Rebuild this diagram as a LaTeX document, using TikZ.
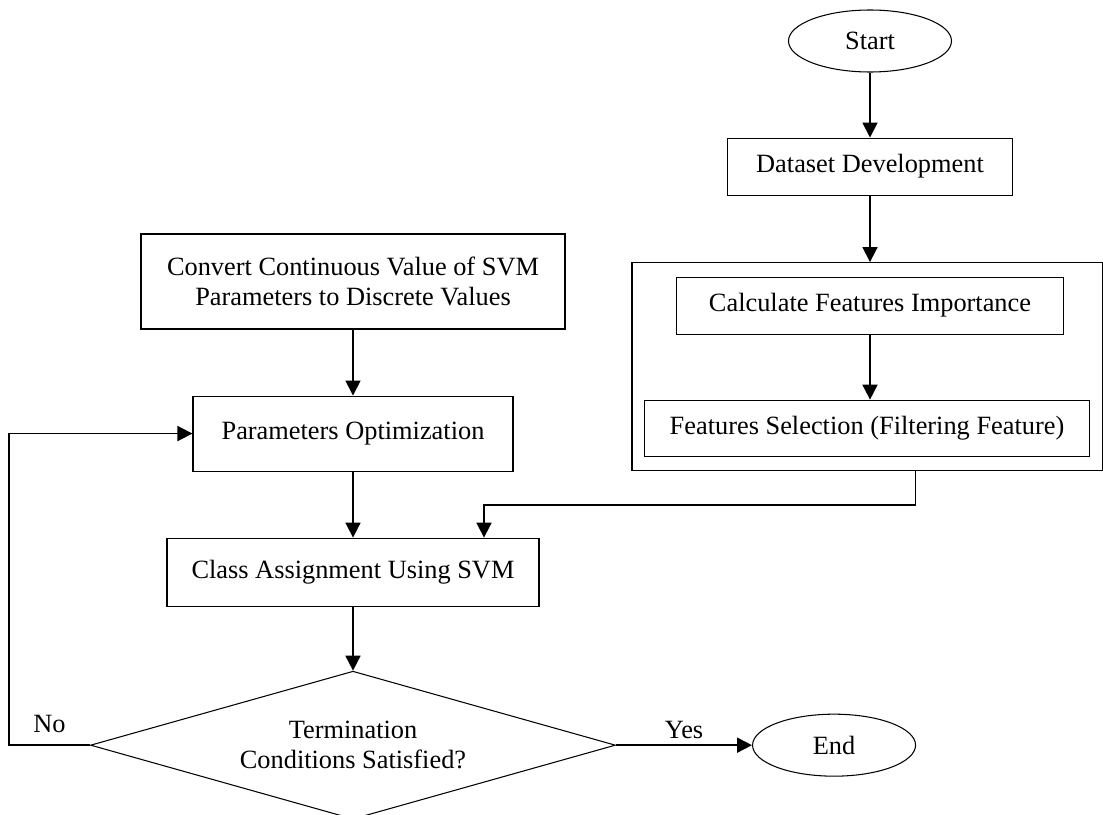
\documentclass[tikz,border=0pt]{standalone}
\usepackage{fontspec}
\setmainfont{Liberation Serif}
\usetikzlibrary{positioning, shapes.geometric, arrows.meta, fit}

\begin{document}
\begin{tikzpicture}[
    font=\fontsize{15}{17}\selectfont,
    box/.style={rectangle, draw, line width=0.6pt, align=center},
    term/.style={ellipse, draw, line width=0.6pt, minimum width=3.26cm, minimum height=1.24cm},
    decision/.style={diamond, draw, line width=0.6pt, aspect=3.55, minimum width=10.5cm, minimum height=2.96cm, align=center, inner sep=0pt},
    arrow_main/.style={-{Triangle[length=3mm, width=3mm]}, line width=1pt},
    label_style/.style={font=\fontsize{15}{17}\selectfont}
]
\useasboundingbox (0,0) rectangle (22.06,-16.28);

% right branch
\node[term] (start) at (17.4,-0.82) {Start};
\node[box, minimum width=5.7cm, minimum height=1.14cm, below=1.3cm of start] (dataset) {Dataset Development};
\node[box, minimum width=7.74cm, minimum height=1.14cm, below=1.62cm of dataset] (calc) {Calculate Features Importance};
\node[box, minimum width=8.9cm, minimum height=1.12cm, below=1.3cm of calc, xshift=-0.06cm] (fsel) {Features Selection (Filtering Feature)};
\node[box, inner xsep=0.24cm, inner ysep=0.28cm, fit=(calc)(fsel)] (group) {};

% left branch
\node[box, minimum width=8.48cm, minimum height=1.9cm] (convert) at (7.06,-5.63) {Convert Continuous Value of SVM\\Parameters to Discrete Values};
\node[box, minimum width=6.4cm, minimum height=1.5cm, below=1.32cm of convert] (params) {Parameters Optimization};
\node[box, minimum width=7.44cm, minimum height=1.36cm, below=1.32cm of params] (cls) {Class Assignment Using SVM};
\node[decision, below=1.28cm of cls] (dec) {Termination\\Conditions Satisfied?};
\node[term, right=2.72cm of dec] (finish) {End};

\draw[arrow_main] (start) -- (dataset);
\draw[arrow_main] (dataset.south) -- (dataset.south |- group.north);
\draw[arrow_main] (calc.south) -- (calc.south |- fsel.north);
\draw[arrow_main] (convert) -- (params);
\draw[arrow_main] (params) -- (cls);
\draw[arrow_main] (cls) -- (dec);

\coordinate (tap) at ([xshift=0.97cm]group.south);
\draw[arrow_main] (tap) -- ++(0,-0.68) -| ([xshift=2.62cm]cls.north);

\draw[arrow_main] (dec) -- (finish) node[midway, above, label_style] {Yes};
\draw[arrow_main] (dec.west) -- ++(-1.62,0) node[midway, above=3pt, label_style] {No} |- (params.west);

\end{tikzpicture}
\end{document}
